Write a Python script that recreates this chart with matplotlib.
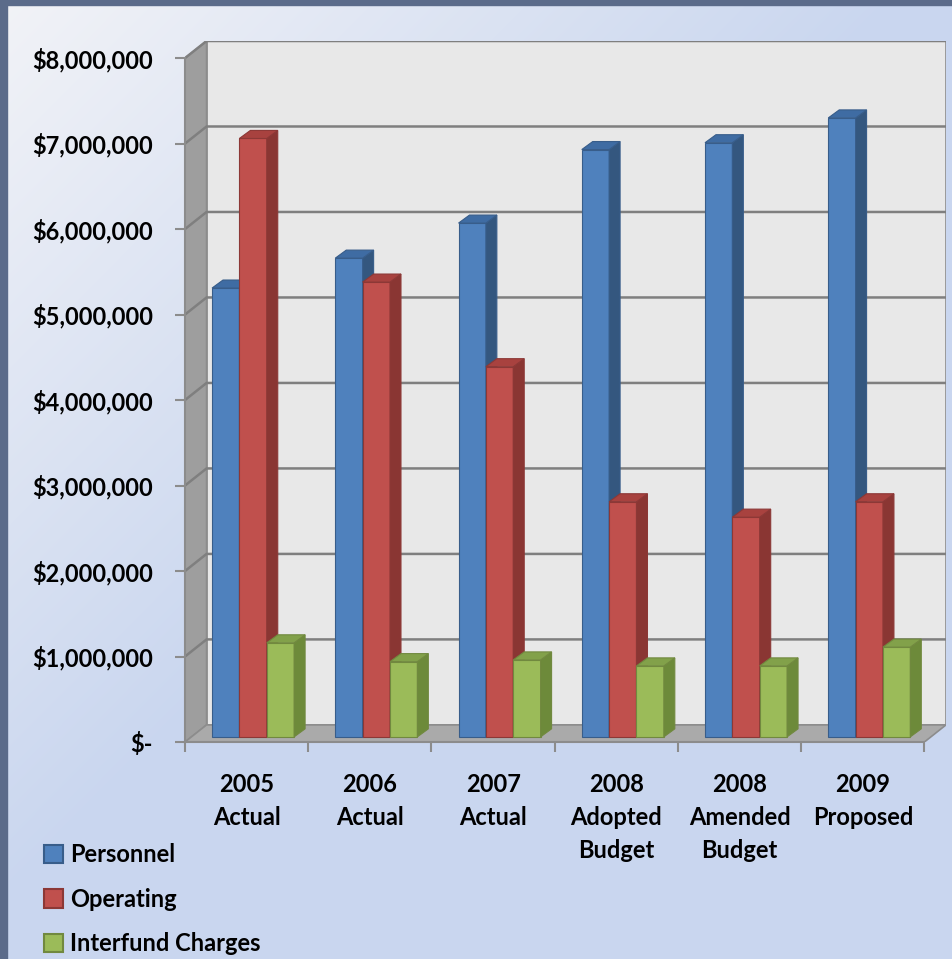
import numpy as np
import matplotlib
matplotlib.use("Agg")
import matplotlib.pyplot as plt
from matplotlib.patches import Polygon, Patch, Rectangle
from matplotlib.ticker import FuncFormatter

plt.rcParams['font.family'] = ['Lato', 'DejaVu Sans']

# budget by category
categories = ["2005\nActual", "2006\nActual", "2007\nActual",
              "2008\nAdopted\nBudget", "2008\nAmended\nBudget", "2009\nProposed"]
personnel = [5250000, 5600000, 6010000, 6870000, 6950000, 7240000]
operating = [7000000, 5320000, 4330000, 2750000, 2570000, 2750000]
interfund = [1100000, 880000, 900000, 830000, 830000, 1050000]
series_names = ["Personnel", "Operating", "Interfund Charges"]

front = ["#4F81BD", "#C0504D", "#9BBB59"]
side = ["#34577F", "#8A3633", "#6D8A3A"]
top = ["#3F6CA3", "#A8423F", "#82A14A"]
edge = ["#385D8A", "#8C3836", "#71893F"]

W, H = 953, 959
fig = plt.figure(figsize=(W / 100, H / 100), dpi=100)

# diagonal background wash
bg = fig.add_axes([0, 0, 1, 1], zorder=-5)
yy, xx = np.mgrid[0:H, 0:W]
t = np.clip((xx / W + yy / H) / 0.95, 0, 1)
c0 = np.array([0xF2, 0xF3, 0xF7]) / 255
c1 = np.array([0xC9, 0xD6, 0xEF]) / 255
img = c0[None, None, :] * (1 - t[..., None]) + c1[None, None, :] * t[..., None]
bg.imshow(img, extent=[0, W, H, 0], aspect='auto')
bg.set_xlim(0, W)
bg.set_ylim(H, 0)
bg.axis('off')
bg.add_patch(Rectangle((0, 0), W, 5, color="#5B6B8A"))
bg.add_patch(Rectangle((0, 0), 7, H, color="#5B6B8A"))

# depth of the box and of the bars (x in categories, y in dollars)
DX, DY = 0.175, 200000
SX, SY = 0.3 * DX, 0.3 * DY
BDX, BDY = 0.089, 94000
NCAT = len(categories)
YMAX = 8000000

ax = fig.add_axes([185 / W, (H - 742) / H, 761 / W, 701 / H])
ax.set_xlim(0, NCAT + DX)
ax.set_ylim(0, YMAX + DY)
ax.patch.set_alpha(0)

# walls and floor
ax.add_patch(Polygon([(DX, DY), (NCAT + DX, DY), (NCAT + DX, YMAX + DY), (DX, YMAX + DY)],
                     closed=True, fc="#E8E8E8", ec="#8C8C8C", lw=1.2, zorder=0))
ax.add_patch(Polygon([(0, 0), (DX, DY), (DX, YMAX + DY), (0, YMAX)],
                     closed=True, fc="#9E9E9E", ec="#8C8C8C", lw=1.2, zorder=0))
ax.add_patch(Polygon([(0, 0), (NCAT, 0), (NCAT + DX, DY), (DX, DY)],
                     closed=True, fc="#AAAAAA", ec="#8C8C8C", lw=1.2, zorder=0.5))
for v in range(1000000, YMAX + 1, 1000000):
    ax.plot([0, DX, NCAT + DX], [v, v + DY, v + DY], color="#7F7F7F", lw=1.8, zorder=0.3)

# bars
w = 0.222
values = [personnel, operating, interfund]
z = 2
for k in range(NCAT):
    for i, vals in enumerate(values):
        v = vals[k]
        x0 = k + 0.5 - 1.5 * w + i * w + SX
        x1 = x0 + w
        ax.bar(x0, v, width=w, bottom=SY, align='edge', color=front[i],
               edgecolor=edge[i], lw=0.8, zorder=z)
        ax.add_patch(Polygon([(x1, SY), (x1 + BDX, SY + BDY), (x1 + BDX, SY + v + BDY), (x1, SY + v)],
                             closed=True, fc=side[i], ec=edge[i], lw=0.8, zorder=z))
        ax.add_patch(Polygon([(x0, SY + v), (x0 + BDX, SY + v + BDY), (x1 + BDX, SY + v + BDY), (x1, SY + v)],
                             closed=True, fc=top[i], ec=edge[i], lw=0.8, zorder=z))
        z += 1

# axes
for s in ['top', 'right']:
    ax.spines[s].set_visible(False)
ax.spines['left'].set_bounds(0, YMAX)
ax.spines['bottom'].set_bounds(0, NCAT)
for s in ['left', 'bottom']:
    ax.spines[s].set_color("#8C8C8C")
    ax.spines[s].set_linewidth(1.5)

ax.set_yticks(range(0, YMAX + 1, 1000000))
ax.yaxis.set_major_formatter(FuncFormatter(lambda v, p: "$-" if v == 0 else "${:,.0f}".format(v)))
ax.tick_params(axis='y', direction='out', length=7, width=1.5, color="#8C8C8C", pad=16,
               labelsize=17)

ax.set_xticks(range(NCAT + 1))
ax.set_xticklabels([])
ax.set_xticks([k + 0.5 for k in range(NCAT)], minor=True)
ax.set_xticklabels(categories, minor=True)
ax.tick_params(axis='x', which='major', direction='out', length=7, width=1.5, color="#8C8C8C")
ax.tick_params(axis='x', which='minor', length=0, pad=22, labelsize=17)
for lab in ax.get_yticklabels():
    lab.set_fontweight('bold')
for lab in ax.get_xticklabels(minor=True):
    lab.set_fontweight('bold')
    lab.set_linespacing(1.55)

handles = [Patch(facecolor=front[i], edgecolor=edge[i], lw=1.5) for i in range(3)]
fig.legend(handles, series_names, loc='upper left', bbox_to_anchor=(35 / W, 1 - 834 / H),
           frameon=False, prop={'weight': 'bold', 'size': 17}, handlelength=0.8,
           handleheight=0.8, handletextpad=0.3, labelspacing=0.9, borderaxespad=0)

fig.savefig("out.png", dpi=100)
